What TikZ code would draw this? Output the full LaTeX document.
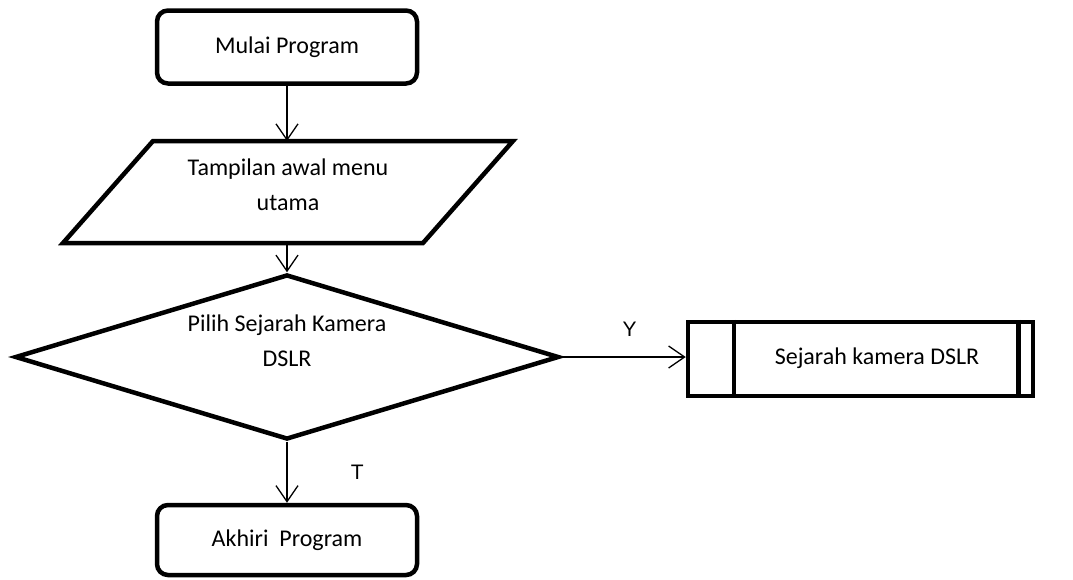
\documentclass[tikz,border=0pt]{standalone}
\usepackage{fontspec}
\setmainfont{Carlito}
\newfontfamily\labelfont{Liberation Sans}
\usetikzlibrary{shapes.geometric,arrows.meta}
\begin{document}
\begin{tikzpicture}[x=1pt,y=-1pt,
  shapeline/.style={draw=black,line width=4.5pt,fill=white},
  txt/.style={align=center,font=\fontsize{24}{35}\selectfont},
  terminal/.style={shapeline,txt,rounded corners=11pt,minimum width=260pt,minimum height=73pt},
  flow/.style={draw=black,line width=1.3pt,-{Straight Barb[length=16pt,width=22pt,line width=1.3pt]}},
  branch/.style={font=\labelfont\fontsize{21}{24}\selectfont}]
\useasboundingbox (0,0) rectangle (1073,579);

% start terminal
\node[terminal] (start) at (287,47) {Mulai Program};

% input / output parallelogram
\draw[shapeline,line join=miter] (153,141) coordinate (ptop) -- (513,141) -- (423,243) -- (63,243) -- cycle;
\coordinate (pbot) at (287,243);
\node[txt] (menu) at (288,185) {Tampilan awal menu\\utama};

% decision
\node[diamond,shapeline,minimum width=544pt,minimum height=165pt,aspect=3.3,inner sep=0pt] (pilih) at (287,357) {};
\node[txt] (pilihtxt) at (287,341) {Pilih Sejarah Kamera\\DSLR};

% predefined process
\node[shapeline,txt,minimum width=345pt,minimum height=74pt] (sejarah) at (860.5,359) {};
\draw[line width=4.5pt] ([xshift=48pt]sejarah.north west) -- ([xshift=48pt]sejarah.south west);
\draw[line width=4.5pt] ([xshift=-17pt]sejarah.north east) -- ([xshift=-17pt]sejarah.south east);
\node[txt] (sejarahtxt) at (877,358) {Sejarah kamera DSLR};

% end terminal
\node[terminal,minimum height=70pt] (akhir) at (287,540) {Akhiri\ \ Program};

% connectors
\draw[flow] (start.south) -- (ptop -| start.south);
\draw[flow] (pbot) -- (pilih.north);
\draw[flow] (pilih.east) -- (pilih.east -| sejarah.west) node[branch,pos=0.55,above=17pt] {Y};
\draw[flow] (pilih.south) -- (akhir.north) node[branch,midway,right=60pt] {T};
\end{tikzpicture}
\end{document}
